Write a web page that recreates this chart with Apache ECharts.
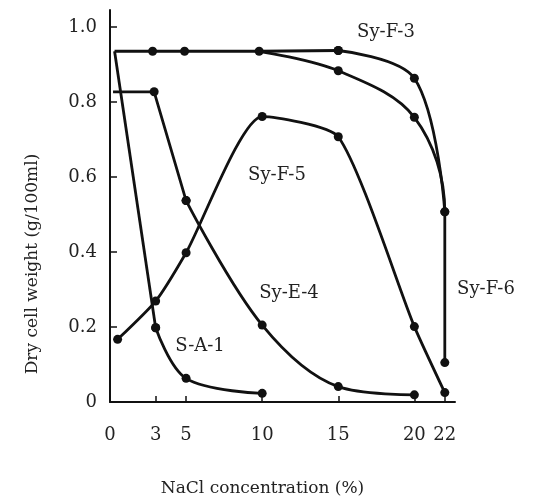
<!DOCTYPE html>
<html>
<head>
<meta charset="utf-8">
<script src="https://cdn.jsdelivr.net/npm/echarts@6/dist/echarts.min.js"></script>
<style>
  html, body { margin: 0; padding: 0; background: #fff; }
  #main { width: 540px; height: 499px; }
</style>
</head>
<body>
<div id="main"></div>
<script>
var dom = document.getElementById('main');
var myChart = echarts.init(dom);

// [NaCl %, dry cell weight g/100ml]
var sA1  = [[0.3, 0.935], [3, 0.198], [5, 0.063], [10, 0.023]];
var syE4 = [[0.2, 0.827], [2.9, 0.827], [5, 0.537], [10, 0.205], [15, 0.041], [20, 0.019]];
var syF5 = [[0.5, 0.167], [3, 0.269], [5, 0.398], [10, 0.761], [15, 0.707], [20, 0.201], [22, 0.025]];
var syF3 = [[0.3, 0.935], [2.8, 0.935], [4.9, 0.935], [9.8, 0.935], [15, 0.937], [20, 0.863], [22, 0.507]];
var syF6 = [[9.8, 0.935], [15, 0.883], [20, 0.759], [22, 0.507], [22, 0.105]];

// bend = index where the ruled (straight) part ends and the freehand part starts
var curves = [
    { name: 'S-A-1',  pts: sA1,  bend: 1, firstDot: false, smooth: 0.35 },
    { name: 'Sy-E-4', pts: syE4, bend: 2, firstDot: false, smooth: 0.35 },
    { name: 'Sy-F-5', pts: syF5, bend: 0, firstDot: true,  smooth: 0.2 },
    { name: 'Sy-F-3', pts: syF3, bend: 4, firstDot: false, smooth: 0.35 },
    { name: 'Sy-F-6', pts: syF6, bend: 0, firstDot: false, smooth: 0.35 }
];

var xTicks = [0, 3, 5, 10, 15, 20, 22];
var yTicks = [0, 0.2, 0.4, 0.6, 0.8, 1.0];

var ink = '#111';
var font = "'DejaVu Serif', 'Liberation Serif', serif";

function toData(pts, from, to, firstDot) {
    var out = [];
    for (var i = from; i <= to; i++) {
        var item = { value: pts[i] };
        if (i === 0 && !firstDot) item.symbol = 'none';
        out.push(item);
    }
    return out;
}

var series = [];
curves.forEach(function (c) {
    var last = c.pts.length - 1;
    var common = {
        type: 'line',
        name: c.name,
        symbol: 'circle',
        symbolSize: 9,
        itemStyle: { color: ink },
        lineStyle: { color: ink, width: 2.8 },
        animation: false,
        z: 3
    };
    if (c.bend > 0) {
        series.push(Object.assign({}, common, {
            smooth: false,
            data: toData(c.pts, 0, c.bend, c.firstDot)
        }));
    }
    if (c.bend < last) {
        series.push(Object.assign({}, common, {
            smooth: c.smooth,
            data: toData(c.pts, c.bend, last, c.bend > 0 ? true : c.firstDot)
        }));
    }
});

// curve names written beside the curves
var tags = [
    { text: 'Sy-F-3', x: 386, y: 32 },
    { text: 'Sy-F-5', x: 277, y: 175 },
    { text: 'Sy-E-4', x: 289, y: 293 },
    { text: 'S-A-1',  x: 200, y: 346 },
    { text: 'Sy-F-6', x: 486, y: 289 }
];

var graphics = tags.map(function (t) {
    return {
        type: 'text', x: t.x, y: t.y,
        style: { text: t.text, fill: '#222', font: '18px ' + font, textAlign: 'center', textVerticalAlign: 'middle' }
    };
});
graphics.push({
    type: 'text', x: 33, y: 264, rotation: Math.PI / 2,
    style: { text: 'Dry cell weight (g/100ml)', fill: '#222', font: '17px ' + font, textAlign: 'center', textVerticalAlign: 'middle' }
});

var option = {
    backgroundColor: '#fff',
    animation: false,
    grid: { left: 110, right: 85, top: 10, bottom: 97, outerBoundsMode: 'none' },
    xAxis: {
        type: 'value',
        min: 0,
        max: 22.67,
        name: 'NaCl concentration (%)',
        nameLocation: 'middle',
        nameGap: 78,
        nameTextStyle: { fontFamily: font, fontSize: 17, color: '#222', padding: [0, 40, 0, 0] },
        axisLine: { show: true, lineStyle: { color: ink, width: 2 } },
        axisTick: { show: true, inside: true, length: 6, customValues: xTicks, lineStyle: { color: ink, width: 1.5 } },
        axisLabel: { customValues: xTicks, margin: 24, fontFamily: font, fontSize: 18, color: '#222' },
        splitLine: { show: false }
    },
    yAxis: {
        type: 'value',
        min: 0,
        max: 1.045,
        axisLine: { show: true, lineStyle: { color: ink, width: 2 } },
        axisTick: { show: true, inside: true, length: 7, customValues: yTicks, lineStyle: { color: ink, width: 1.5 } },
        axisLabel: {
            customValues: yTicks, margin: 13, fontFamily: font, fontSize: 18, color: '#222',
            formatter: function (v) { return v === 0 ? '0' : v.toFixed(1); }
        },
        splitLine: { show: false }
    },
    graphic: graphics,
    series: series
};

if (option && typeof option === 'object') {
    myChart.setOption(option, true);
}
</script>
</body>
</html>
